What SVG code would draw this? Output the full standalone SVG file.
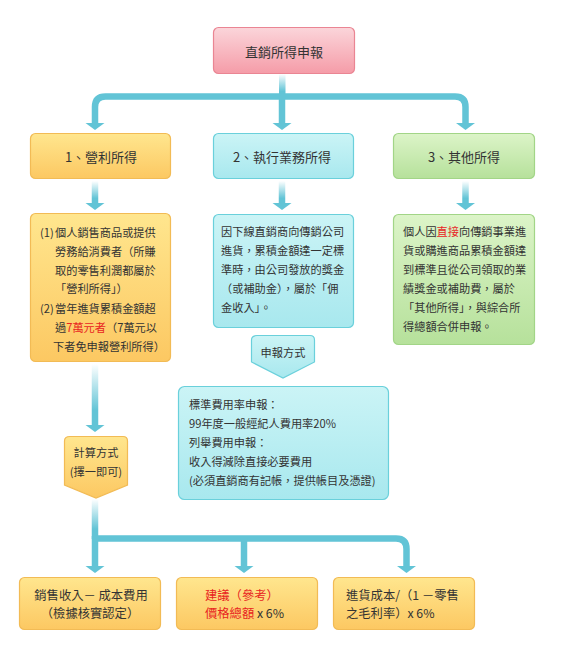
<svg xmlns="http://www.w3.org/2000/svg" width="562" height="671" viewBox="0 0 562 671">
<defs>
<linearGradient id="gPink" x1="0" y1="0" x2="0" y2="1"><stop offset="0" stop-color="#fbd5da"/><stop offset="1" stop-color="#f59ca8"/></linearGradient>
<linearGradient id="gYel" x1="0" y1="0" x2="0" y2="1"><stop offset="0" stop-color="#ffe68e"/><stop offset="1" stop-color="#fcc862"/></linearGradient>
<linearGradient id="gCyan" x1="0" y1="0" x2="0" y2="1"><stop offset="0" stop-color="#cbf4f6"/><stop offset="1" stop-color="#a8e8ee"/></linearGradient>
<linearGradient id="gGreen" x1="0" y1="0" x2="0" y2="1"><stop offset="0" stop-color="#dcf4c8"/><stop offset="1" stop-color="#b6e19b"/></linearGradient>
<linearGradient id="gFade" x1="0" y1="0" x2="0" y2="1"><stop offset="0" stop-color="#62c4d6" stop-opacity="0"/><stop offset="0.75" stop-color="#62c4d6"/><stop offset="1" stop-color="#62c4d6"/></linearGradient>
<path id="ah" d="M-9.5,0 H9.5 L0,7 Z" fill="#62c4d6"/>
</defs>
<style>
text{font-family:"Noto Sans CJK TC","Noto Sans CJK SC",sans-serif;fill:#333;}
.t13{font-size:13px;}
.t12{font-size:12.3px;}
.t11{font-size:11.2px;}
.red{fill:#e8241f;}
.pink{fill:url(#gPink);stroke:#ea8593;stroke-width:1.2;}
.yel{fill:url(#gYel);stroke:#f2bb55;stroke-width:1.2;}
.cyan{fill:url(#gCyan);stroke:#6ad0db;stroke-width:1.2;}
.green{fill:url(#gGreen);stroke:#a2d587;stroke-width:1.2;}
.ln{fill:none;stroke:#62c4d6;stroke-width:6.5;}
.fd{fill:url(#gFade);}
</style>
<rect width="562" height="671" fill="#ffffff"/>

<g id="connectors">
<rect class="fd" x="279" y="74" width="6.5" height="23"/>
<path class="ln" d="M95,124 V107 Q95,96.5 105.5,96.5 H455 Q465.5,96.5 465.5,107 V124"/>
<path class="ln" d="M282,96 V124"/>
<use href="#ah" x="95" y="123"/>
<use href="#ah" x="282" y="123"/>
<use href="#ah" x="465.5" y="123"/>
<rect class="fd" x="91.75" y="181" width="6.5" height="23"/>
<rect class="fd" x="278.75" y="181" width="6.5" height="23"/>
<rect class="fd" x="462.25" y="181" width="6.5" height="23"/>
<use href="#ah" x="95" y="203"/>
<use href="#ah" x="282" y="203"/>
<use href="#ah" x="465.5" y="203"/>
<rect class="fd" x="91.75" y="364" width="6.5" height="62"/>
<use href="#ah" x="95" y="425"/>
<rect class="fd" x="91.75" y="499" width="6.5" height="40"/>
<path class="ln" d="M95,536 V567"/>
<path class="ln" d="M95,538.5 H396 Q406.5,538.5 406.5,549 V567"/>
<path class="ln" d="M244,538 V567"/>
<use href="#ah" x="95" y="566"/>
<use href="#ah" x="244" y="566"/>
<use href="#ah" x="406.5" y="566"/>
</g>

<g id="top">
<rect class="pink" x="213.5" y="27.5" width="141" height="46" rx="5"/>
<text class="t13" x="284" y="57" text-anchor="middle">直銷所得申報</text>
</g>

<g id="n1">
<rect class="yel" x="30.5" y="133.5" width="140" height="45" rx="5"/>
<text class="t13" x="101" y="162" text-anchor="middle">1、營利所得</text>
</g>
<g id="n2">
<rect class="cyan" x="213.5" y="133.5" width="140" height="45" rx="5"/>
<text class="t13" x="282" y="162" text-anchor="middle">2、執行業務所得</text>
</g>
<g id="n3">
<rect class="green" x="393.5" y="133.5" width="141" height="45" rx="5"/>
<text class="t13" x="464" y="162" text-anchor="middle">3、其他所得</text>
</g>

<g id="d1">
<rect class="yel" x="30.5" y="213.5" width="140" height="148" rx="5"/>
<text class="t11">
<tspan x="40" y="237">(1)</tspan><tspan x="55" y="237">個人銷售商品或提供</tspan>
<tspan x="55" y="256">勞務給消費者（所賺</tspan>
<tspan x="55" y="275">取的零售利潤都屬於</tspan>
<tspan x="55" y="293">「營利所得」）</tspan>
<tspan x="40" y="313">(2)</tspan><tspan x="55" y="313">當年進貨累積金額超</tspan>
<tspan x="55" y="332">過</tspan><tspan class="red">7萬元者</tspan><tspan>（7萬元以</tspan>
<tspan x="53" y="351">下者免申報營利所得）</tspan>
</text>
</g>

<g id="d2">
<rect class="cyan" x="213.5" y="214.5" width="140" height="113" rx="5"/>
<text class="t11">
<tspan x="221" y="236">因下線直銷商向傳銷公司</tspan>
<tspan x="221" y="255">進貨，累積金額達一定標</tspan>
<tspan x="221" y="274">準時，由公司發放的獎金</tspan>
<tspan x="221" y="293">（或補助金），屬於「佣</tspan>
<tspan x="221" y="312">金收入」。</tspan>
</text>
</g>

<g id="d3">
<rect class="green" x="393.5" y="214.5" width="141" height="130" rx="5"/>
<text class="t11">
<tspan x="403" y="236">個人因</tspan><tspan class="red">直接</tspan><tspan>向傳銷事業進</tspan>
<tspan x="403" y="255">貨或購進商品累積金額達</tspan>
<tspan x="403" y="274">到標準且從公司領取的業</tspan>
<tspan x="403" y="293">績獎金或補助費，屬於</tspan>
<tspan x="403" y="312">「其他所得」，與綜合所</tspan>
<tspan x="403" y="331">得總額合併申報。</tspan>
</text>
</g>

<g id="p1">
<path class="cyan" d="M257,335.5 H310 Q314.5,335.5 314.5,340 V362 L283,378 L251.5,362 V340 Q251.5,335.5 257,335.5 Z"/>
<text class="t11" x="283" y="357" text-anchor="middle">申報方式</text>
</g>

<g id="d4">
<rect class="cyan" x="178.5" y="386.5" width="210" height="113" rx="6"/>
<text class="t11">
<tspan x="189" y="409">標準費用率申報：</tspan>
<tspan x="189" y="428">99年度一般經紀人費用率20%</tspan>
<tspan x="189" y="447">列舉費用申報：</tspan>
<tspan x="189" y="466">收入得減除直接必要費用</tspan>
<tspan x="189" y="485">(必須直銷商有記帳，提供帳目及憑證)</tspan>
</text>
</g>

<g id="p2">
<path class="yel" d="M70,436.5 H123 Q127.5,436.5 127.5,441 V485 L96,498 L64.5,485 V441 Q64.5,436.5 70,436.5 Z"/>
<text class="t11" x="96" y="457" text-anchor="middle">計算方式</text>
<text class="t11" x="96" y="476" text-anchor="middle">(擇一即可)</text>
</g>

<g id="b1">
<rect class="yel" x="19.5" y="577.5" width="141" height="52" rx="5"/>
<text class="t12" x="91" y="599.5" text-anchor="middle">銷售收入－ 成本費用</text>
<text class="t12" x="90" y="617.5" text-anchor="middle">（檢據核實認定）</text>
</g>
<g id="b2">
<rect class="yel" x="176.5" y="577.5" width="141" height="52" rx="5"/>
<text class="t12 red" x="205" y="599.5">建議（參考）</text>
<text class="t12" x="205" y="617.5"><tspan class="red">價格總額</tspan> x 6%</text>
</g>
<g id="b3">
<rect class="yel" x="333.5" y="577.5" width="141" height="52" rx="5"/>
<text class="t12" x="346" y="599.5">進貨成本/（1 －零售</text>
<text class="t12" x="346" y="617.5">之毛利率）x 6%</text>
</g>
</svg>
